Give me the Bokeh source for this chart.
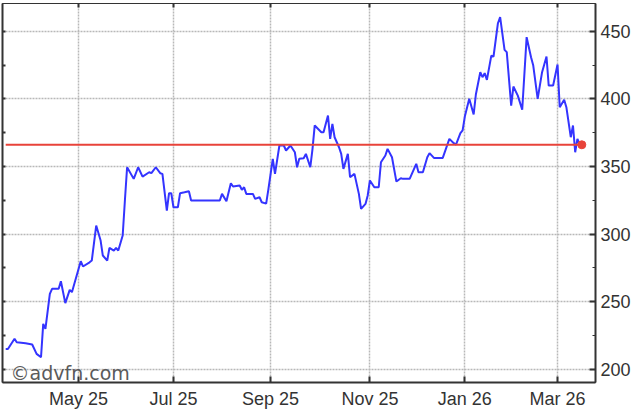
import numpy as np
from bokeh.plotting import figure
from bokeh.models import Range1d, LinearAxis, FixedTicker, Label
from bokeh.embed import file_html
from bokeh.resources import INLINE

# business days counted from the first trading day shown
start_date = "2025-03-17"
day = [0, 1, 4, 5, 9, 12, 14, 16, 17, 18, 20, 21, 24, 25, 27, 29, 30, 34, 35, 38, 39, 41, 43, 44, 46, 47, 49, 50, 51, 53, 54, 55,
       58, 60, 62, 65, 66, 68, 70, 71, 73, 74, 75, 76, 78, 79, 81, 83, 84, 97, 98, 100, 102, 103, 106, 107, 108, 109, 112, 113, 115, 116, 118,
       119, 121, 122, 124, 126, 127, 129, 131, 132, 133, 135, 136, 138, 139, 140, 143, 144, 146, 147, 148, 149, 151, 152, 153, 155, 156, 158, 160, 161, 163,
       164, 165, 167, 169, 170, 172, 173, 175, 177, 179, 180, 183, 186, 187, 189, 191, 192, 194, 198,
       201, 203, 204, 206, 207, 208, 210, 212, 213, 215, 216, 217, 218, 220, 221, 223, 224, 226, 227, 229,
       230, 232, 234, 236, 238, 239, 241, 243, 245, 246, 248, 250, 251, 253, 254, 256, 257, 258, 259, 260, 261]
price = [215, 215, 222.5, 220, 219.2, 218.3, 211.4, 208.9, 233.6, 229.9, 255.8, 259.5, 259.5, 265.1, 248.9, 258.7, 257, 279.9, 276, 279.1, 280.4, 306.3, 295.2, 284.1, 280.4, 289.8, 287.8, 289.8, 287.8, 298.9, 324.8, 349.4,
         340.8, 349.4, 342.5, 345.7, 345, 349.4, 345, 344.5, 317.4, 330.2, 330.2, 319.8, 319.8, 330.2, 330.9, 331.7, 324.8, 324.8, 329.7, 324.3, 337.6, 335.1, 335.9, 332.7, 334.6, 329.7, 329.7, 326, 327.2, 323.5, 322.5,
         333, 355.6, 344.5, 365.5, 365.5, 361.8, 365.5, 360.5, 349.4, 355.6, 356.1, 359.3, 349.4, 363, 380.3, 375.3, 375.3, 387.6, 370.4, 381.5, 371.6, 364.2, 359.3, 348.2, 359.3, 342, 344.5, 329.7, 318.6, 322.3,
         328.5, 339.6, 334.6, 334.6, 353.1, 358.1, 363, 356.8, 338.8, 341.3, 340.8, 340.8, 351.9, 345.7, 345.7, 356.8, 359.8, 356.3, 356.3,
         370.4, 367.2, 366.2, 374.6, 376.6, 386.9, 400, 388.4, 403.2, 419.7, 416, 419, 414, 432, 431.3, 455.9, 460.4, 436.2, 434.5, 395,
         409.1, 402.4, 391.9, 445.6, 430.8, 424.6, 400, 419.7, 431.3, 409.8, 409.8, 425.4, 393.8, 399.3, 393.8, 371.6, 380.3, 360.5, 370.4, 366.7, 366.2]
prev_close = 366.0

month_starts = ["2025-05-01", "2025-07-01", "2025-09-01", "2025-11-01", "2026-01-01", "2026-03-01"]
month_labels = ["May 25", "Jul 25", "Sep 25", "Nov 25", "Jan 26", "Mar 26"]
y_major = [200, 250, 300, 350, 400, 450]
y_minor = [175, 200, 225, 250, 275, 300, 325, 350, 375, 400, 425, 450, 475]

month_pos = [int(v) for v in np.busday_count(start_date, month_starts)]

FONT = "Liberation Sans"
AXC = "#333333"

p = figure(frame_width=593, frame_height=379,
           x_range=Range1d(-1.45, 267.2), y_range=Range1d(190.2, 470.5),
           y_axis_location="right", output_backend="svg", toolbar_location=None,
           min_border=0, min_border_left=2, min_border_top=3,
           background_fill_color="white", border_fill_color="white")
p.outline_line_color = AXC
p.outline_line_width = 1

xt = FixedTicker(ticks=month_pos)
yt = FixedTicker(ticks=y_major, minor_ticks=y_minor)

p.xaxis.ticker = xt
p.xaxis.major_label_overrides = {pos: lab for pos, lab in zip(month_pos, month_labels)}
p.yaxis.ticker = yt

for ax in (p.xaxis[0], p.yaxis[0]):
    ax.major_tick_in = 6
    ax.major_tick_out = 0
    ax.minor_tick_in = 3
    ax.minor_tick_out = 0
    ax.axis_line_color = AXC
    ax.axis_line_width = 2
    ax.major_tick_line_color = AXC
    ax.minor_tick_line_color = AXC
    ax.major_tick_line_width = 2
    ax.major_label_text_font = FONT
    ax.major_label_text_font_size = "18px"
    ax.major_label_text_color = "#333333"
p.xaxis.major_label_standoff = 6
p.yaxis.major_label_standoff = 5

# label-free axes on the left and top: only (minor) inward ticks
left_axis = LinearAxis(ticker=FixedTicker(ticks=[], minor_ticks=y_minor),
                       major_tick_in=0, major_tick_out=0, minor_tick_in=3, minor_tick_out=0,
                       major_label_standoff=0, axis_line_color=AXC, axis_line_width=2,
                       minor_tick_line_color=AXC, minor_tick_line_width=2)
p.add_layout(left_axis, "left")
top_axis = LinearAxis(ticker=FixedTicker(ticks=[], minor_ticks=month_pos),
                      major_tick_in=0, major_tick_out=0, minor_tick_in=4, minor_tick_out=0,
                      major_label_standoff=0, axis_line_color=AXC, axis_line_width=1,
                      minor_tick_line_color=AXC, minor_tick_line_width=2)
p.add_layout(top_axis, "above")

p.xgrid.ticker = xt
p.ygrid.ticker = FixedTicker(ticks=y_major)
for g in (p.xgrid[0], p.ygrid[0]):
    g.grid_line_color = "#b8b8b8"
    g.grid_line_dash = "2 1"
    g.grid_line_width = 1.5

p.line(day, price, line_color="#3434ff", line_width=2)
p.line([day[0], day[-1]], [prev_close, prev_close], line_color="#e8433a", line_width=2)
p.scatter([day[-1]], [prev_close], size=8, fill_color="#e8433a", line_color="#e8433a")

p.add_layout(Label(x=2.2, y=197.5, text="©advfn.com", text_font="DejaVu Sans", text_font_size="19px",
                   text_color="#5a5a5a", text_baseline="alphabetic"))

open("out.html", "w").write(file_html(p, INLINE))
